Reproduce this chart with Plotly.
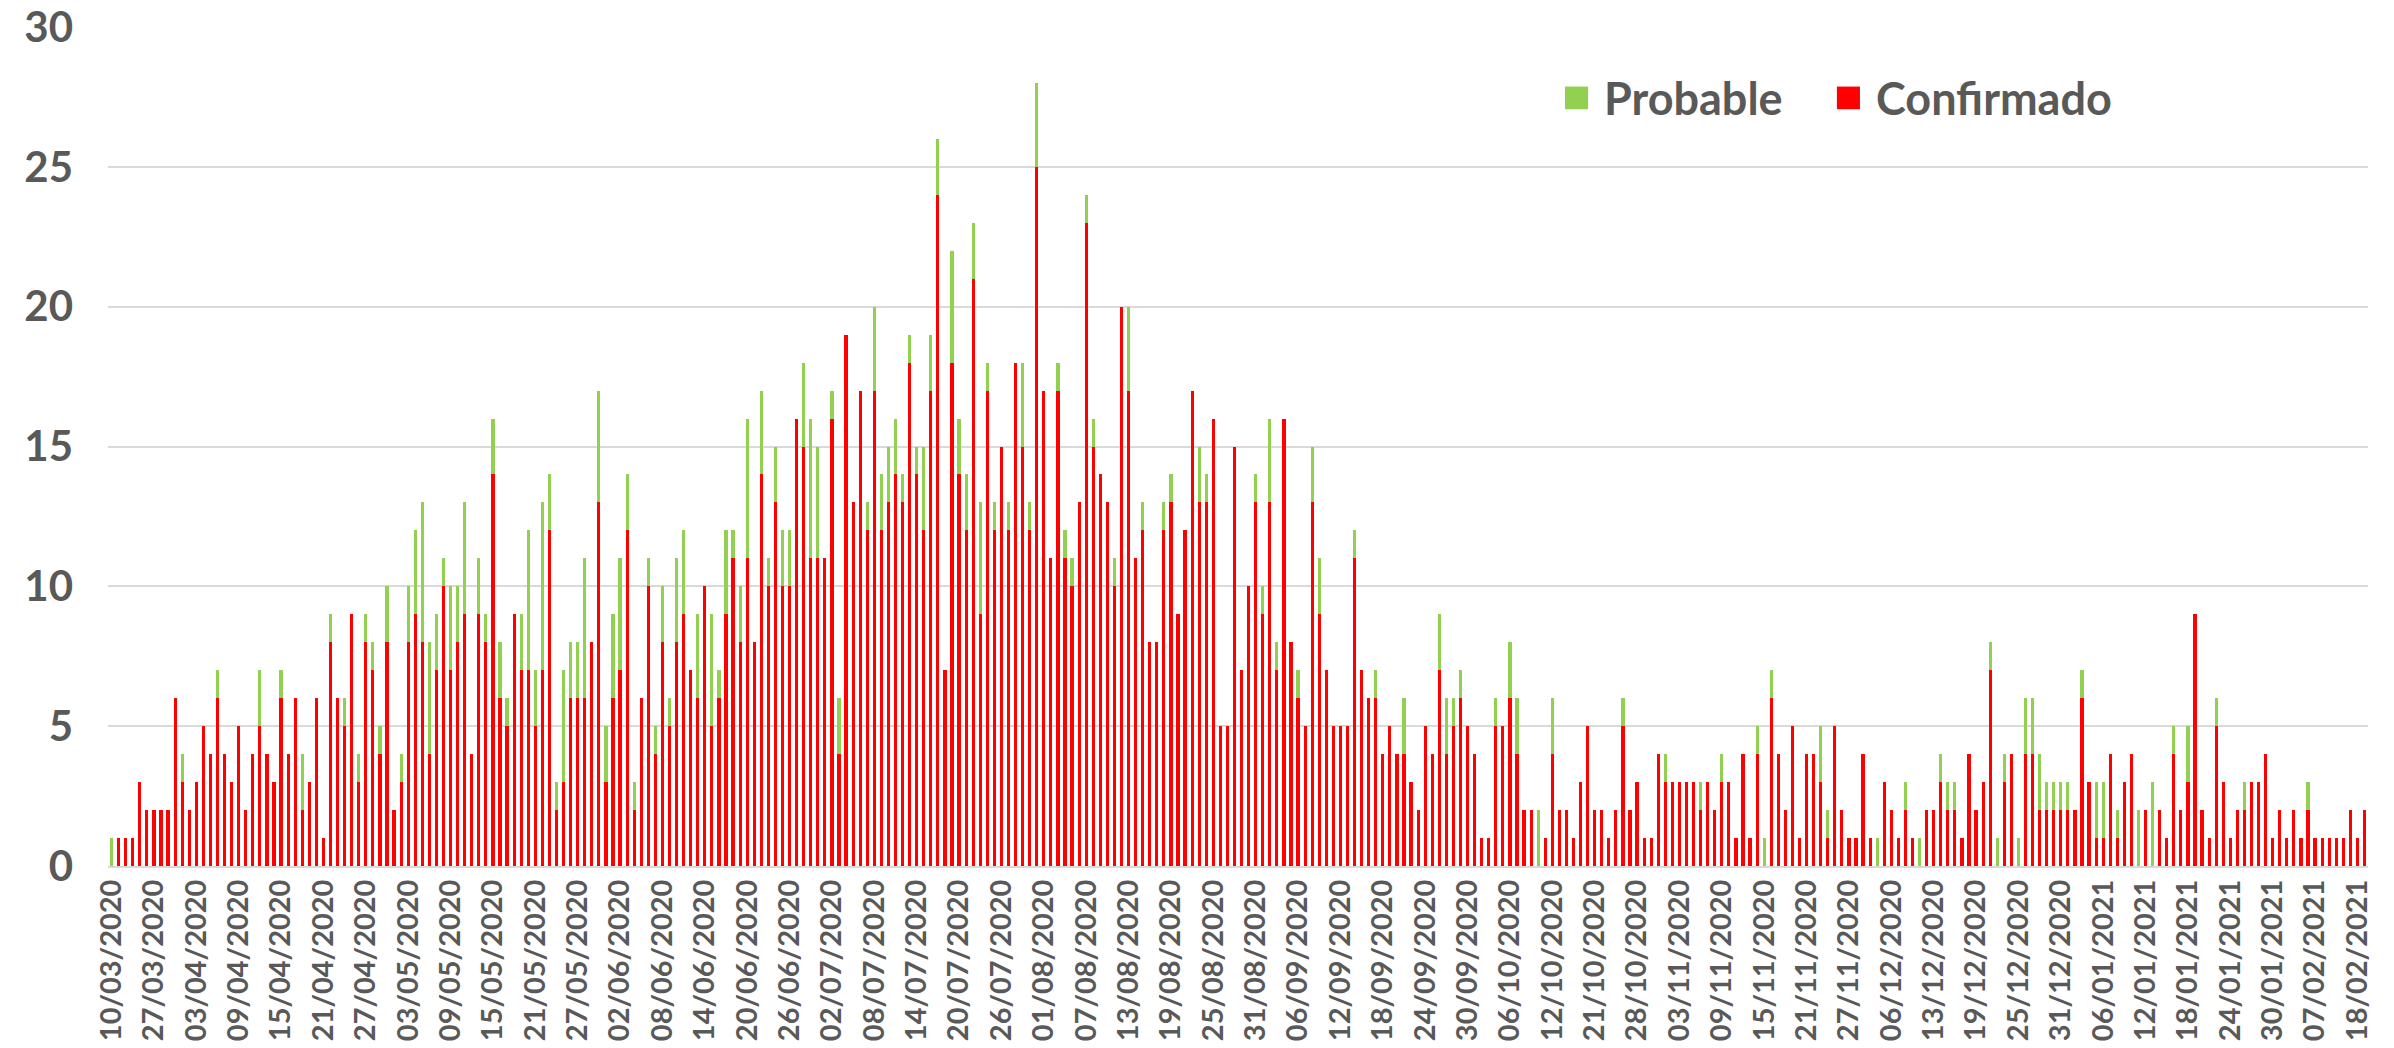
import pandas as pd
import plotly.graph_objects as go

# days with no reported case are absent from the category axis
start_day = "2020-03-10"
end_day = "2021-02-19"
skipped_days = [
    "2020-03-11", "2020-03-12", "2020-03-13", "2020-03-15", "2020-03-16", "2020-03-18",
    "2020-03-20", "2020-03-21", "2020-03-23", "2020-03-24", "2020-03-26", "2020-03-29",
    "2020-10-17", "2020-10-18", "2020-10-20", "2020-10-25",
    "2020-11-29", "2020-12-01", "2020-12-05", "2020-12-12",
    "2021-01-31", "2021-02-06",
    "2021-02-08", "2021-02-10", "2021-02-13", "2021-02-14", "2021-02-15",
]

confirmado = [
    0, 1, 1, 1, 3, 2, 2, 2, 2, 6, 3, 2, 3, 5, 4, 6, 4, 3, 5, 2,
    4, 5, 4, 3, 6, 4, 6, 2, 3, 6, 1, 8, 6, 5, 9, 3, 8, 7, 4, 8,
    2, 3, 8, 9, 8, 4, 7, 10, 7, 8, 9, 4, 9, 8, 14, 6, 5, 9, 7, 7,
    5, 7, 12, 2, 3, 6, 6, 6, 8, 13, 3, 6, 7, 12, 2, 6, 10, 4, 8, 5,
    8, 9, 7, 6, 10, 5, 6, 9, 11, 8, 11, 8, 14, 10, 13, 10, 10, 16, 15, 11,
    11, 11, 16, 4, 19, 13, 17, 12, 17, 12, 13, 14, 13, 18, 14, 12, 17, 24, 7, 18,
    14, 12, 21, 9, 17, 12, 15, 12, 18, 15, 12, 25, 17, 11, 17, 11, 10, 13, 23, 15,
    14, 13, 10, 20, 17, 11, 12, 8, 8, 12, 13, 9, 12, 17, 13, 13, 16, 5, 5, 15,
    7, 10, 13, 9, 13, 7, 16, 8, 6, 5, 13, 9, 7, 5, 5, 5, 11, 7, 6, 6,
    4, 5, 4, 4, 3, 2, 5, 4, 7, 4, 5, 6, 5, 4, 1, 1, 5, 5, 6, 4,
    2, 2, 0, 1, 4, 2, 2, 1, 3, 5, 2, 2, 1, 2, 5, 2, 3, 1, 1, 4,
    3, 3, 3, 3, 3, 2, 3, 2, 3, 3, 1, 4, 1, 4, 0, 6, 4, 2, 5, 1,
    4, 4, 3, 1, 5, 2, 1, 1, 4, 1, 0, 3, 2, 1, 2, 1, 0, 2, 2, 3,
    2, 2, 1, 4, 2, 3, 7, 0, 3, 4, 0, 4, 4, 2, 2, 2, 2, 2, 2, 6,
    3, 1, 1, 4, 1, 3, 4, 0, 2, 0, 2, 1, 4, 2, 3, 9, 2, 1, 5, 3,
    1, 2, 2, 3, 3, 4, 1, 2, 1, 2, 1, 2, 1, 1, 1, 1, 1, 2, 1, 2,
]

probable = [
    1, 0, 0, 0, 0, 0, 0, 0, 0, 0, 1, 0, 0, 0, 0, 1, 0, 0, 0, 0,
    0, 2, 0, 0, 1, 0, 0, 2, 0, 0, 0, 1, 0, 1, 0, 1, 1, 1, 1, 2,
    0, 1, 2, 3, 5, 4, 2, 1, 3, 2, 4, 0, 2, 1, 2, 2, 1, 0, 2, 5,
    2, 6, 2, 1, 4, 2, 2, 5, 0, 4, 2, 3, 4, 2, 1, 0, 1, 1, 2, 1,
    3, 3, 0, 3, 0, 4, 1, 3, 1, 2, 5, 0, 3, 1, 2, 2, 2, 0, 3, 5,
    4, 0, 1, 2, 0, 0, 0, 1, 3, 2, 2, 2, 1, 1, 1, 3, 2, 2, 0, 4,
    2, 2, 2, 4, 1, 1, 0, 1, 0, 3, 1, 3, 0, 0, 1, 1, 1, 0, 1, 1,
    0, 0, 1, 0, 3, 0, 1, 0, 0, 1, 1, 0, 0, 0, 2, 1, 0, 0, 0, 0,
    0, 0, 1, 1, 3, 1, 0, 0, 1, 0, 2, 2, 0, 0, 0, 0, 1, 0, 0, 1,
    0, 0, 0, 2, 0, 0, 0, 0, 2, 2, 1, 1, 0, 0, 0, 0, 1, 0, 2, 2,
    0, 0, 2, 0, 2, 0, 0, 0, 0, 0, 0, 0, 0, 0, 1, 0, 0, 0, 0, 0,
    1, 0, 0, 0, 0, 1, 0, 0, 1, 0, 0, 0, 0, 1, 1, 1, 0, 0, 0, 0,
    0, 0, 2, 1, 0, 0, 0, 0, 0, 0, 1, 0, 0, 0, 1, 0, 1, 0, 0, 1,
    1, 1, 0, 0, 0, 0, 1, 1, 1, 0, 1, 2, 2, 2, 1, 1, 1, 1, 0, 1,
    0, 2, 2, 0, 1, 0, 0, 2, 0, 3, 0, 0, 1, 0, 2, 0, 0, 0, 1, 0,
    0, 0, 1, 0, 0, 0, 0, 0, 0, 0, 0, 1, 0, 0, 0, 0, 0, 0, 0, 0,
]

all_days = pd.date_range(start_day, end_day, freq="D")
days = all_days[~all_days.isin(pd.to_datetime(skipped_days))]
fechas = [d.strftime("%d/%m/%Y") for d in days]
tick_fechas = fechas[::6]

GREY = "#595959"
GRID = "#D9D9D9"
FONT = "Lato"

fig = go.Figure()
fig.add_trace(go.Bar(x=fechas, y=confirmado, name="Confirmado",
                     marker_color="#FF0000", marker_line_width=0, showlegend=False))
fig.add_trace(go.Bar(x=fechas, y=probable, name="Probable",
                     marker_color="#92D050", marker_line_width=0, showlegend=False))

# ---------- legend drawn by hand (bigger swatches than plotly allows) ----------
legend_items = [("Probable", "#92D050", 0.6447), ("Confirmado", "#FF0000", 0.7650)]
for label, color, x0 in legend_items:
    fig.add_shape(type="rect", xref="paper", yref="paper",
                  x0=x0, x1=x0 + 0.0102, y0=0.902, y1=0.929,
                  fillcolor=color, line_width=0)
    fig.add_annotation(text=label, xref="paper", yref="paper",
                       x=x0 + 0.0165, y=0.9155, xanchor="left", yanchor="middle",
                       showarrow=False,
                       font=dict(family=FONT, size=45, color=GREY, weight=700))

fig.update_layout(
    barmode="stack",
    bargap=0.55,
    width=2394,
    height=1048,
    margin=dict(l=108, r=26, t=27, b=182, autoexpand=False),
    plot_bgcolor="white",
    paper_bgcolor="white",
    font=dict(family=FONT, color=GREY),
)
fig.update_xaxes(
    type="category",
    tickmode="array",
    tickvals=tick_fechas,
    ticktext=tick_fechas,
    tickangle=-90,
    tickfont=dict(family=FONT, size=29, color=GREY, weight=700),
    showgrid=False,
    showline=True,
    linecolor=GRID,
    linewidth=2,
    ticks="",
)
fig.update_yaxes(
    range=[0, 30],
    dtick=5,
    showgrid=True,
    gridcolor=GRID,
    gridwidth=2,
    zeroline=False,
    tickfont=dict(family=FONT, size=42, color=GREY, weight=700),
    ticklabelstandoff=34,
    ticks="",
)

fig.write_html("out.html", config={"displayModeBar": False},
               post_script="document.body.style.margin='0';document.body.style.overflow='hidden';")
